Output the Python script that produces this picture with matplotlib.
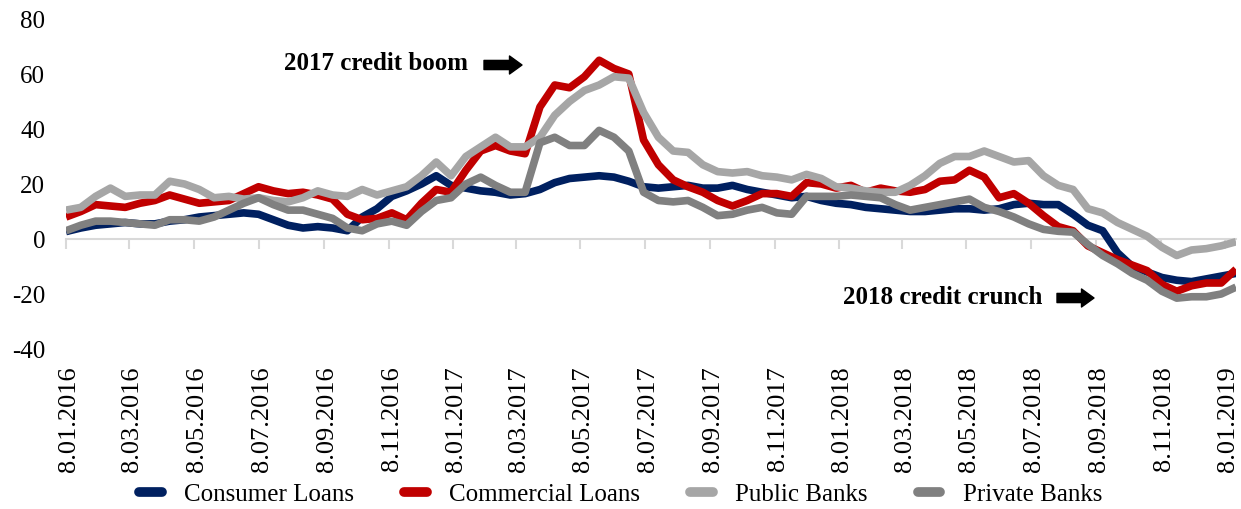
import matplotlib
matplotlib.use("Agg")
import matplotlib.pyplot as plt
import matplotlib.transforms as mtransforms
import pandas as pd

plt.rcParams['font.family'] = ['Liberation Serif', 'DejaVu Serif']
plt.rcParams['axes.unicode_minus'] = False

# Bi-weekly observations, annual % change
dates = pd.date_range('2016-01-08', periods=80, freq='14D')

consumer = [2.7, 4, 5, 5.5, 6, 5.5, 5.5, 6.5, 7, 8,
            8.5, 9, 9.5, 9, 7, 5, 4, 4.5, 4, 3,
            8, 11, 15.5, 17.5, 20, 23, 19.5, 18.5, 17.5, 17,
            16, 16.5, 18, 20.5, 22, 22.5, 23, 22.5, 21, 19,
            18.5, 19, 19.5, 18.5, 18.5, 19.5, 18, 17, 16, 15,
            15.5, 14, 13, 12.5, 11.5, 11, 10.5, 10, 10, 10.5,
            11, 11, 10.5, 11, 12.5, 13, 12.5, 12.5, 9, 5,
            3, -5, -10, -12, -14, -15, -15.5, -14.5, -13.5, -12.5]

commercial = [8, 10, 12.5, 12, 11.5, 13, 14, 16, 14.5, 13,
              13.5, 14, 16.5, 19, 17.5, 16.5, 17, 16, 14.5, 9,
              7, 7.5, 9.5, 7, 13, 18, 17, 25, 32, 34,
              32, 31, 48, 56, 55, 59, 65, 62, 60, 36,
              27, 21.5, 19, 17, 14, 12, 14, 16.5, 16.5, 15.5,
              20.5, 20, 18.5, 19.5, 17, 18.5, 17.5, 17, 18, 21,
              21.5, 25, 22.5, 15, 16.5, 13, 8.5, 4.5, 3, -2.5,
              -5, -7.5, -9.5, -11.5, -16.5, -19, -17, -16, -16, -11]

public = [10.5, 11.5, 15.5, 18.5, 15.5, 16, 16, 21, 20, 18,
          15, 15.5, 14.5, 15, 14, 13.5, 15, 17.5, 16, 15.5,
          18, 16, 17.5, 19, 23, 28, 23, 30, 33.5, 37,
          33.5, 33.5, 37, 45, 50, 54, 56, 59, 58.5, 46,
          37, 32, 31.5, 27, 24.5, 24, 24.5, 23, 22.5, 21.5,
          23.5, 22, 19, 18.5, 17.5, 17, 17, 19.5, 23, 27.5,
          30, 30, 32, 30, 28, 28.5, 23, 19.5, 18, 11,
          9.5, 6, 3.5, 1, -3, -6, -4, -3.5, -2.5, -1]

private = [3, 5, 6.5, 6.5, 6, 5.5, 5, 7, 7, 6.5,
           8, 10.5, 13, 15, 12.5, 10.5, 10.5, 9, 7.5, 4,
           3, 5.5, 6.5, 5, 10, 14, 15, 20, 22.5, 19.5,
           17, 17, 35, 37, 34, 34, 39.5, 37, 32, 17,
           14, 13.5, 14, 11.5, 8.5, 9, 10.5, 11.5, 9.5, 9,
           15.5, 15.5, 15.5, 16, 15.5, 15, 12.5, 10.5, 11.5, 12.5,
           13.5, 14.5, 11.5, 10, 8, 5.5, 3.5, 2.8, 2.5, -2,
           -6, -9, -12.5, -15, -19, -21.5, -21, -21, -20, -17.5]

series = [
    ('Consumer Loans', consumer, '#002060'),
    ('Commercial Loans', commercial, '#C00000'),
    ('Public Banks', public, '#A6A6A6'),
    ('Private Banks', private, '#808080'),
]

tick_dates = [pd.Timestamp(y, m, 8) for y in (2016, 2017, 2018) for m in (1, 3, 5, 7, 9, 11)]
tick_dates.append(pd.Timestamp(2019, 1, 8))
tick_labels = [f"{d.day}.{d.month:02d}.{d.year}" for d in tick_dates]

fig = plt.figure(figsize=(12.41, 5.10), dpi=100)
ax = fig.add_axes([66 / 1241, 1 - 350 / 510, 1170 / 1241, 330 / 510])

for name, vals, col in series:
    ax.plot(dates, vals, color=col, lw=5.5, label=name, zorder=3,
            solid_joinstyle='round', solid_capstyle='butt')

ax.set_xlim(pd.Timestamp('2016-01-08'), pd.Timestamp('2019-01-18'))
ax.set_ylim(-40, 80)
ax.set_yticks(range(-40, 81, 20))
ax.tick_params(axis='y', length=0, pad=15, labelsize=18)

# zero line carries the date ticks, labels sit under the plot
for s in ('top', 'right', 'left'):
    ax.spines[s].set_visible(False)
ax.spines['bottom'].set_position(('data', 0))
ax.spines['bottom'].set_color('#D9D9D9')
ax.spines['bottom'].set_linewidth(1.5)
ax.set_xticks(tick_dates)
ax.tick_params(axis='x', direction='out', length=7, width=1.5,
               color='#D9D9D9', labelbottom=False)
lbl_tr = ax.get_xaxis_transform() + mtransforms.ScaledTranslation(3 / 100, 0, fig.dpi_scale_trans)
for d, lbl in zip(tick_dates, tick_labels):
    ax.text(d, -0.05, lbl, transform=lbl_tr, rotation=90,
            ha='center', va='top', fontsize=19)

# annotations
fig.text(468 / 1241, 1 - 64 / 510, '2017 credit boom', ha='right', va='center',
         fontsize=18, fontweight='bold')
fig.text(1042 / 1241, 1 - 297 / 510, '2018 credit crunch', ha='right', va='center',
         fontsize=18, fontweight='bold')
arrow_kw = dict(arrowstyle='simple,head_length=0.45,head_width=0.65,tail_width=0.33',
                fc='black', ec='black', mutation_scale=20, shrinkA=0, shrinkB=0)
ax.annotate('', xy=(522 / 1241, 1 - 66 / 510), xytext=(484 / 1241, 1 - 66 / 510),
            xycoords='figure fraction', textcoords='figure fraction', arrowprops=arrow_kw)
ax.annotate('', xy=(1094 / 1241, 1 - 299 / 510), xytext=(1057 / 1241, 1 - 299 / 510),
            xycoords='figure fraction', textcoords='figure fraction', arrowprops=arrow_kw)

leg = fig.legend(loc='center', bbox_to_anchor=(0.5, 1 - 495 / 510), ncol=4,
                 frameon=False, fontsize=18, handlelength=0.9, handletextpad=0.9,
                 columnspacing=2.0)
for h in leg.get_lines():
    h.set_solid_capstyle('round')
    h.set_linewidth(7)

fig.savefig('out.png', dpi=100)
